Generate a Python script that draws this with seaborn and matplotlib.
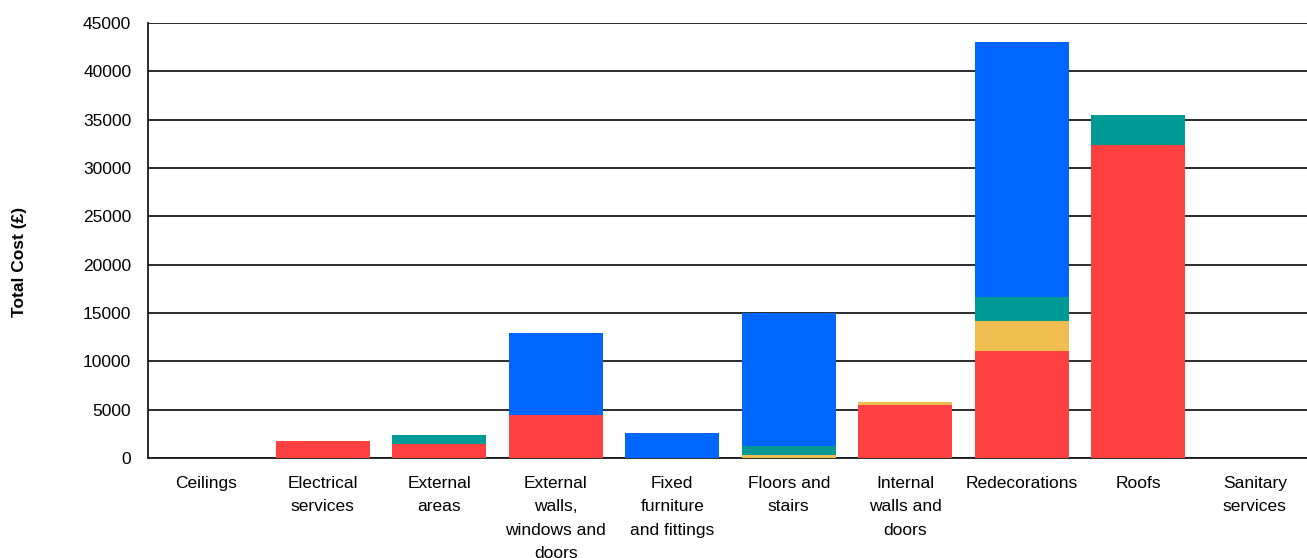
import matplotlib
matplotlib.use("Agg")
import matplotlib.pyplot as plt
import seaborn as sns
import numpy as np

categories = ["Ceilings", "Electrical\nservices", "External\nareas",
              "External\nwalls,\nwindows and\ndoors", "Fixed\nfurniture\nand fittings",
              "Floors and\nstairs", "Internal\nwalls and\ndoors", "Redecorations",
              "Roofs", "Sanitary\nservices"]
series_names = ["Red", "Yellow", "Teal", "Blue"]
red_vals = [0, 1750, 1450, 4450, 0, 0, 5490, 11060, 32330, 0]
yellow_vals = [0, 0, 0, 0, 0, 300, 340, 3110, 0, 0]
teal_vals = [0, 0, 930, 0, 0, 970, 0, 2480, 3170, 0]
blue_vals = [0, 0, 0, 8500, 2590, 13760, 0, 26350, 0, 0]
colors = ["#FF4040", "#F0BE50", "#009A96", "#0066FF"]
yticks = [0, 5000, 10000, 15000, 20000, 25000, 30000, 35000, 40000, 45000]

sns.set_style("white")
plt.rcParams['font.family'] = ['Liberation Sans', 'DejaVu Sans']
plt.rcParams['text.color'] = 'black'
plt.rcParams['xtick.color'] = 'black'
plt.rcParams['ytick.color'] = 'black'

fig = plt.figure(figsize=(13.07, 5.58), dpi=100)
ax = fig.add_axes([148/1307, 100/558, 1165/1307, 435/558])

bottom = np.zeros(len(categories))
for name, vals, c in zip(series_names, [red_vals, yellow_vals, teal_vals, blue_vals], colors):
    sns.barplot(x=categories, y=vals, bottom=bottom, color=c, width=0.81,
                ax=ax, zorder=3, linewidth=0, saturation=1)
    bottom = bottom + np.array(vals)

ax.set_ylim(0, 45000)
ax.set_xlim(-0.5, len(categories) - 0.5)
ax.set_yticks(yticks)
ax.set_yticklabels([str(v) for v in yticks])
ax.yaxis.grid(True, color="#1a1a1a", linewidth=1.3, zorder=0)
ax.xaxis.grid(False)
for s in ["top", "right"]:
    ax.spines[s].set_visible(False)
ax.spines["left"].set_color("#1a1a1a")
ax.spines["left"].set_linewidth(1.3)
ax.spines["bottom"].set_color("#1a1a1a")
ax.spines["bottom"].set_linewidth(1.3)
ax.tick_params(axis="y", length=0, pad=12, labelsize=12.5, labelcolor="black")
ax.tick_params(axis="x", length=0, pad=13, labelsize=12.5, labelcolor="black")
for lab in ax.get_xticklabels():
    lab.set_linespacing(1.7)
ax.set_xlabel("")
ax.set_ylabel("")
fig.text(20/1307, 1 - 262/558, "Total Cost (£)", rotation=90, fontsize=12.5,
         fontweight="bold", ha="center", va="center", color="black")

fig.savefig("out.png", dpi=100)
